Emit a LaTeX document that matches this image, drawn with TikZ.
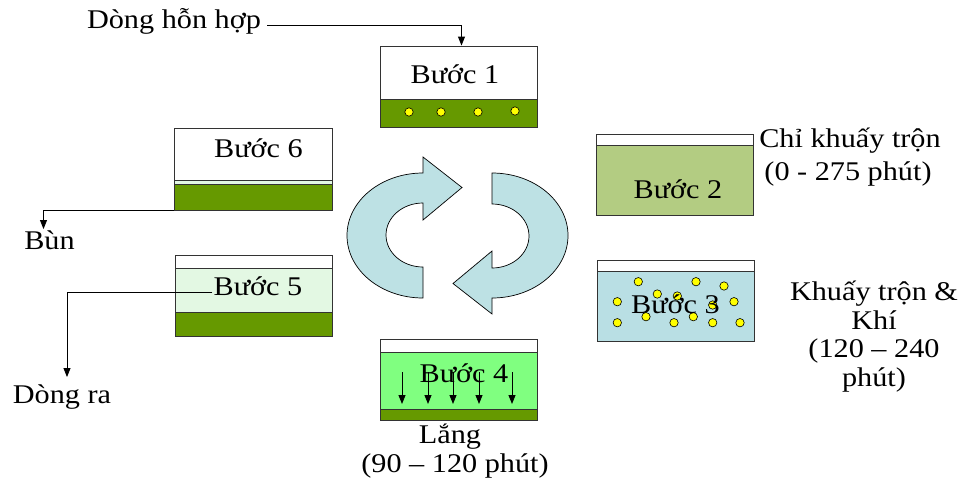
\documentclass[tikz,border=0pt]{standalone}
\usepackage{fontspec}
\setmainfont{Liberation Serif}[FakeStretch=1.12]
\usetikzlibrary{arrows.meta,calc}
\definecolor{olivedk}{HTML}{669900}
\definecolor{sagegreen}{HTML}{B3CC82}
\definecolor{paleblue}{HTML}{B9DFE4}
\definecolor{brightgreen}{HTML}{80FF80}
\definecolor{mintpale}{HTML}{E3F8E3}
\definecolor{cycblue}{HTML}{BDE1E4}
\definecolor{dotyellow}{HTML}{FFFF00}
\begin{document}
\begin{tikzpicture}[x=1pt,y=1pt,
  txt/.style={font=\fontsize{27}{30}\selectfont, inner sep=1pt, anchor=base},
  outline/.style={draw=black!80, line width=0.9pt, rectangle, inner sep=0pt, minimum width=157pt, minimum height=81pt},
  bandline/.style={draw=black!80, line width=0.9pt},
  arr/.style={-{Triangle[length=9pt,width=7pt]}, line width=0.9pt},
  dot/.style={fill=dotyellow, draw=black, line width=0.6pt},
  cycfill/.style={fill=cycblue, draw=black, line width=0.7pt}
]
\useasboundingbox (0,0) rectangle (963,-482);

% ---- cycle arrows ----
\filldraw[cycfill] (423,-298) arc[start angle=270, end angle=90, x radius=76, y radius=62.5]
  -- (423,-157) -- (462,-187.5) -- (423,-220) -- (423,-203)
  arc[start angle=90, end angle=270, x radius=37, y radius=32] -- cycle;
\begin{scope}[rotate around={180:(457.5,-235.5)}]
\filldraw[cycfill] (423,-298) arc[start angle=270, end angle=90, x radius=76, y radius=62.5]
  -- (423,-157) -- (462,-187.5) -- (423,-220) -- (423,-203)
  arc[start angle=90, end angle=270, x radius=37, y radius=32] -- cycle;
\end{scope}

% ---- Box 1 ----
\fill[white] (380,-46) rectangle (537,-99);
\fill[olivedk] (380,-99) rectangle (537,-127);
\draw[bandline] (380,-99) -- (537,-99);
\foreach \x/\y in {409/112,441/112,478/112,515/111} \filldraw[dot] (\x,-\y) circle (4.2);
\node[outline] (b1) at (458.5,-86.5) {};
\node[txt] (t1) at (455,-83) {Bước 1};

% ---- Box 2 ----
\fill[white] (596,-134) rectangle (753,-145);
\fill[sagegreen] (596,-145) rectangle (753,-215);
\draw[bandline] (596,-145) -- (753,-145);
\node[outline] (b2) at (674.5,-174.5) {};
\node[txt] (t2) at (678,-198) {Bước 2};

% ---- Box 3 ----
\fill[white] (597,-260) rectangle (754,-271);
\fill[paleblue] (597,-271) rectangle (754,-341);
\draw[bandline] (597,-271) -- (754,-271);
\foreach \x/\y in {638.3/281.7,696/281.7,724/286,657.3/294,677.3/296,617.3/301.7,734/301.7,712.7/305,646/316.7,693.3/316.7,617.3/322.7,674/322.7,712.7/322.7,740/322.7}
  \filldraw[dot] (\x,-\y) circle (4.2);
\node[outline] (b3) at (675.5,-300.5) {};
\node[txt] (t3) at (675.5,-313) {Bước 3};

% ---- Box 4 ----
\fill[white] (380,-339) rectangle (537,-352);
\fill[brightgreen] (380,-352) rectangle (537,-409);
\fill[olivedk] (380,-409) rectangle (537,-420);
\draw[bandline] (380,-352) -- (537,-352);
\draw[bandline] (380,-409) -- (537,-409);
\node[outline] (b4) at (458.5,-379.5) {};
\node[txt] (t4) at (464,-382) {Bước 4};
\foreach \x in {402,428,453,479,512} \draw[arr] (\x,-372) -- (\x,-404);

% ---- Box 5 ----
\fill[white] (175,-255) rectangle (332,-268);
\fill[mintpale] (175,-268) rectangle (332,-312);
\fill[olivedk] (175,-312) rectangle (332,-336);
\draw[bandline] (175,-268) -- (332,-268);
\draw[bandline] (175,-312) -- (332,-312);
\node[outline] (b5) at (253.5,-295.5) {};
\node[txt] (t5) at (258,-295) {Bước 5};

% ---- Box 6 ----
\fill[white] (174,-128) rectangle (332,-180);
\fill[mintpale] (174,-180) rectangle (332,-184);
\fill[olivedk] (174,-184) rectangle (332,-210);
\draw[bandline] (174,-180) -- (332,-180);
\draw[bandline] (174,-184) -- (332,-184);
\node[outline, minimum width=158pt, minimum height=82pt] (b6) at (253,-169) {};
\node[txt] (t6) at (258.5,-157) {Bước 6};

% ---- labels ----
\node[txt] (dhh) at (174,-28) {Dòng hỗn hợp};
\node[txt] (bun) at (49.5,-249) {Bùn};
\node[txt] (dongra) at (62,-403) {Dòng ra};
\node[txt] (c1) at (850,-147) {Chỉ khuấy trộn};
\node[txt] (c2) at (848,-180) {(0 - 275 phút)};
\node[txt] (k1) at (874,-300) {Khuấy trộn \&};
\node[txt] (k2) at (874,-329) {Khí};
\node[txt] (k3) at (874,-357) {(120 – 240};
\node[txt] (k4) at (874,-386) {phút)};
\node[txt] (l1) at (450,-443) {Lắng};
\node[txt] (l2) at (455,-472) {(90 – 120 phút)};

% ---- connectors ----
\draw[arr] ([xshift=5pt]dhh.mid east) -| ([xshift=3pt]b1.north);
\draw[arr] (b6.south west) -| ([xshift=-6pt]bun.north);
\draw[arr] (t5.mid west) -| ([xshift=5pt,yshift=6pt]dongra.north);
\end{tikzpicture}
\end{document}
